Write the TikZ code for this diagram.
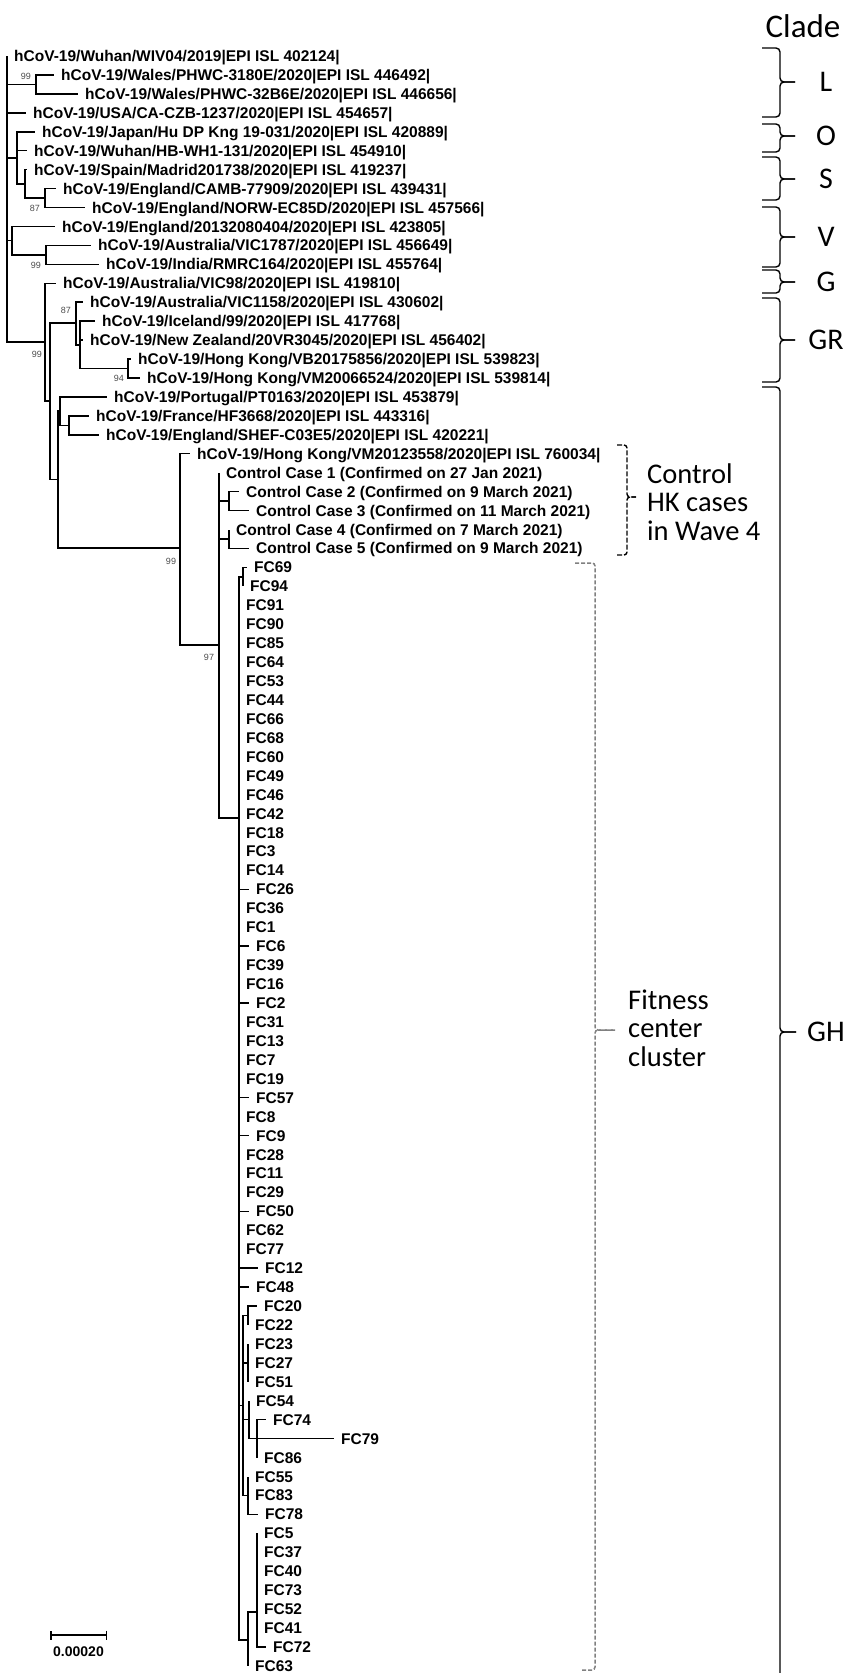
\documentclass[tikz,border=0pt]{standalone}
\usepackage{fontspec}
\setmainfont{Liberation Sans}
\setsansfont{Liberation Sans}
\newfontfamily\calibri{Carlito}
\usetikzlibrary{arrows.meta}
\tikzset{
    font=\sffamily,
    >=Stealth,
    % Tree
    branch/.style={line width=1.5pt, black},
    leaf/.style={anchor=west, inner xsep=7pt, inner ysep=0pt, text height=11pt, text depth=0pt,
                 font=\sffamily\bfseries\fontsize{15.5}{17}\selectfont},
    boot/.style={inner sep=0pt, text=black!70, font=\sffamily\fontsize{9}{10}\selectfont},
    scaleBar/.style={line width=1.5pt, {Bar[width=9pt]}-{Bar[width=9pt]}},
    % Brackets & Labels
    cladeBr/.style={line width=1.4pt, rounded corners=4pt},
    ctrlBr/.style={line width=1.4pt, dash pattern=on 5pt off 2pt, rounded corners=3pt},
    fitBr/.style={line width=1.5pt, draw=gray, dash pattern=on 4pt off 2pt, rounded corners=3pt},
    anno/.style={anchor=west, inner sep=0pt, align=left, font=\calibri\fontsize{28.5}{28.5}\selectfont},
    cladeLbl/.style={inner sep=0pt, text height=19pt, text depth=0pt, font=\calibri\fontsize{30}{32}\selectfont}
}

\begin{document}
\begin{tikzpicture}[x=1pt, y=-1pt]
\useasboundingbox (0,0) rectangle (849,1673);

% internal nodes
\coordinate (root) at (7,199);
\coordinate (nWales) at (36,84.4);
\coordinate (nJapan) at (17,158);
\coordinate (nSpain) at (25,184);
\coordinate (nCamb) at (45,198);
\coordinate (nV) at (12,240.7);
\coordinate (nVic) at (46,254.9);
\coordinate (nA) at (45,342);
\coordinate (nB) at (50,401);
\coordinate (nGR) at (76,323);
\coordinate (nGR2) at (80,345);
\coordinate (nHK) at (128,368.5);
\coordinate (nC) at (58,479.5);
\coordinate (nPort) at (60,411);
\coordinate (nFr) at (69,425.3);
\coordinate (nHKbig) at (180,548);
\coordinate (nCC) at (219,645);
\coordinate (nCC23) at (229,501.1);
\coordinate (nCC45) at (229,539);
\coordinate (nFC) at (239,818);
\coordinate (n69) at (243,576.9);
\coordinate (nS) at (243,1405.5);
\coordinate (n20) at (248,1315.5);
\coordinate (n23) at (248,1362.9);
\coordinate (n54) at (249,1419.7);
\coordinate (n74) at (257,1438.6);
\coordinate (n55) at (248,1495.4);
\coordinate (n63) at (248,1640);
\coordinate (n5) at (257,1612);

% reference sequences
\node[leaf] (wiv04) at (7,56.0) {hCoV-19/Wuhan/WIV04/2019|EPI ISL 402124|};
\node[leaf] (wales1) at (54,74.9) {hCoV-19/Wales/PHWC-3180E/2020|EPI ISL 446492|};
\node[leaf] (wales2) at (78,93.9) {hCoV-19/Wales/PHWC-32B6E/2020|EPI ISL 446656|};
\node[leaf] (usa) at (26,112.8) {hCoV-19/USA/CA-CZB-1237/2020|EPI ISL 454657|};
\node[leaf] (japan) at (35,131.8) {hCoV-19/Japan/Hu DP Kng 19-031/2020|EPI ISL 420889|};
\node[leaf] (whb) at (27,150.7) {hCoV-19/Wuhan/HB-WH1-131/2020|EPI ISL 454910|};
\node[leaf] (spain) at (27,169.6) {hCoV-19/Spain/Madrid201738/2020|EPI ISL 419237|};
\node[leaf] (camb) at (56,188.6) {hCoV-19/England/CAMB-77909/2020|EPI ISL 439431|};
\node[leaf] (norw) at (85,207.5) {hCoV-19/England/NORW-EC85D/2020|EPI ISL 457566|};
\node[leaf] (eng13) at (55,226.5) {hCoV-19/England/20132080404/2020|EPI ISL 423805|};
\node[leaf] (vic1787) at (91,245.4) {hCoV-19/Australia/VIC1787/2020|EPI ISL 456649|};
\node[leaf] (india) at (99,264.3) {hCoV-19/India/RMRC164/2020|EPI ISL 455764|};
\node[leaf] (vic98) at (56,283.3) {hCoV-19/Australia/VIC98/2020|EPI ISL 419810|};
\node[leaf] (vic1158) at (83,302.2) {hCoV-19/Australia/VIC1158/2020|EPI ISL 430602|};
\node[leaf] (iceland) at (95,321.2) {hCoV-19/Iceland/99/2020|EPI ISL 417768|};
\node[leaf] (nz) at (83,340.1) {hCoV-19/New Zealand/20VR3045/2020|EPI ISL 456402|};
\node[leaf] (hkvb) at (131,359.0) {hCoV-19/Hong Kong/VB20175856/2020|EPI ISL 539823|};
\node[leaf] (hkvm1) at (140,378.0) {hCoV-19/Hong Kong/VM20066524/2020|EPI ISL 539814|};
\node[leaf] (portugal) at (107,396.9) {hCoV-19/Portugal/PT0163/2020|EPI ISL 453879|};
\node[leaf] (france) at (89,415.9) {hCoV-19/France/HF3668/2020|EPI ISL 443316|};
\node[leaf] (shef) at (99,434.8) {hCoV-19/England/SHEF-C03E5/2020|EPI ISL 420221|};
\node[leaf] (hkvm2) at (190,453.7) {hCoV-19/Hong Kong/VM20123558/2020|EPI ISL 760034|};

% control cases
\node[leaf] (cc1) at (219,472.7) {Control Case 1 (Confirmed on 27 Jan 2021)};
\node[leaf] (cc2) at (239,491.6) {Control Case 2 (Confirmed on 9 March 2021)};
\node[leaf] (cc3) at (249,510.6) {Control Case 3 (Confirmed on 11 March 2021)};
\node[leaf] (cc4) at (229,529.5) {Control Case 4 (Confirmed on 7 March 2021)};
\node[leaf] (cc5) at (249,548.4) {Control Case 5 (Confirmed on 9 March 2021)};

% fitness center cases
\node[leaf] (fc69) at (247,567.4) {FC69};
\node[leaf] (fc94) at (243,586.3) {FC94};
\node[leaf] (fc20) at (257,1306.0) {FC20};
\node[leaf] (fc22) at (248,1325.0) {FC22};
\node[leaf] (fc54) at (249,1400.7) {FC54};
\node[leaf] (fc74) at (266,1419.7) {FC74};
\node[leaf] (fc79) at (334,1438.6) {FC79};
\node[leaf] (fc86) at (257,1457.6) {FC86};
\node[leaf] (fc55) at (248,1476.5) {FC55};
\node[leaf] (fc83) at (248,1495.4) {FC83};
\node[leaf] (fc78) at (258,1514.4) {FC78};
\node[leaf] (fc63) at (248,1665.9) {FC63};

% branches
\draw[branch] (root) |- (wiv04.west);
\draw[branch] (root) |- (nWales);
\draw[branch] (root) |- (usa.west);
\draw[branch] (root) |- (nJapan);
\draw[branch] (root) |- (nV);
\draw[branch] (root) |- (nA);
\draw[branch] (nWales) |- (wales1.west);
\draw[branch] (nWales) |- (wales2.west);
\draw[branch] (nJapan) |- (japan.west);
\draw[branch] (nJapan) |- (whb.west);
\draw[branch] (nJapan) |- (nSpain);
\draw[branch] (nSpain) |- (spain.west);
\draw[branch] (nSpain) |- (nCamb);
\draw[branch] (nCamb) |- (camb.west);
\draw[branch] (nCamb) |- (norw.west);
\draw[branch] (nV) |- (eng13.west);
\draw[branch] (nV) |- (nVic);
\draw[branch] (nVic) |- (vic1787.west);
\draw[branch] (nVic) |- (india.west);
\draw[branch] (nA) |- (vic98.west);
\draw[branch] (nA) |- (nB);
\draw[branch] (nB) |- (nGR);
\draw[branch] (nB) |- (nC);
\draw[branch] (nGR) |- (vic1158.west);
\draw[branch] (nGR) |- (nGR2);
\draw[branch] (nGR2) |- (iceland.west);
\draw[branch] (nGR2) |- (nz.west);
\draw[branch] (nGR2) |- (nHK);
\draw[branch] (nHK) |- (hkvb.west);
\draw[branch] (nHK) |- (hkvm1.west);
\draw[branch] (nC) |- (nPort);
\draw[branch] (nC) |- (nHKbig);
\draw[branch] (nPort) |- (portugal.west);
\draw[branch] (nPort) |- (nFr);
\draw[branch] (nFr) |- (france.west);
\draw[branch] (nFr) |- (shef.west);
\draw[branch] (nHKbig) |- (hkvm2.west);
\draw[branch] (nHKbig) |- (nCC);
\draw[branch] (nCC) |- (cc1.west);
\draw[branch] (nCC) |- (nCC23);
\draw[branch] (nCC) |- (nCC45);
\draw[branch] (nCC) |- (nFC);
\draw[branch] (nCC23) |- (cc2.west);
\draw[branch] (nCC23) |- (cc3.west);
\draw[branch] (nCC45) |- (cc4.west);
\draw[branch] (nCC45) |- (cc5.west);
\draw[branch] (nFC) |- (n69);
\draw[branch] (nFC) |- (nS);
\draw[branch] (nFC) |- (n63);
\draw[branch] (n69) |- (fc69.west);
\draw[branch] (n69) |- (fc94.west);
\draw[branch] (nS) |- (n20);
\draw[branch] (nS) |- (n23);
\draw[branch] (nS) |- (n54);
\draw[branch] (nS) |- (n55);
\draw[branch] (n20) |- (fc20.west);
\draw[branch] (n20) |- (fc22.west);
\draw[branch] (n54) |- (fc54.west);
\draw[branch] (n54) |- (n74);
\draw[branch] (n74) |- (fc74.west);
\draw[branch] (n74) |- (fc79.west);
\draw[branch] (n74) |- (fc86.west);
\draw[branch] (n55) |- (fc55.west);
\draw[branch] (n55) |- (fc83.west);
\draw[branch] (n55) |- (fc78.west);
\draw[branch] (n63) |- (n5);
\draw[branch] (n63) |- (fc63.west);

% polytomies
\foreach \n/\r/\t in {91/30/239, 90/31/239, 85/32/239, 64/33/239, 53/34/239, 44/35/239,
    66/36/239, 68/37/239, 60/38/239, 49/39/239, 46/40/239, 42/41/239, 18/42/239, 3/43/239,
    14/44/239, 26/45/249, 36/46/239, 1/47/239, 6/48/249, 39/49/239, 16/50/239, 2/51/249,
    31/52/239, 13/53/239, 7/54/239, 19/55/239, 57/56/249, 8/57/239, 9/58/249, 28/59/239,
    11/60/239, 29/61/239, 50/62/249, 62/63/239, 77/64/239, 12/65/258, 48/66/249} {
  \node[leaf] (fc\n) at (\t,{37.06+18.94*\r}) {FC\n};
  \draw[branch] (nFC) |- (fc\n.west);
}
\foreach \n/\r in {23/69, 27/70, 51/71} {
  \node[leaf] (fc\n) at (248,{37.06+18.94*\r}) {FC\n};
  \draw[branch] (n23) |- (fc\n.west);
}
\foreach \n/\r/\t in {5/79/257, 37/80/257, 40/81/257, 73/82/257, 52/83/257, 41/84/257, 72/85/266} {
  \node[leaf] (fc\n) at (\t,{37.06+18.94*\r}) {FC\n};
  \draw[branch] (n5) |- (fc\n.west);
}

% bootstrap values
\node[boot] (bsWales) at (26,76) {99};
\node[boot] (bsCamb) at (35,208) {87};
\node[boot] (bsVic) at (36,265) {99};
\node[boot] (bsA) at (37,354) {99};
\node[boot] (bsGR) at (66,310) {87};
\node[boot] (bsHK) at (119,378) {94};
\node[boot] (bsHKbig) at (171,561) {99};
\node[boot] (bsCC) at (209,657) {97};

% scale bar
\coordinate (sbL) at (50,1635);
\coordinate (sbR) at (107,1635);
\draw[scaleBar] (sbL) -- (sbR);
\node[font=\sffamily\bfseries\fontsize{14}{16}\selectfont, inner sep=0pt] (sbLbl) at (78.5,1652) {0.00020};

% clades
\node[anchor=base, inner sep=0pt, font=\calibri\fontsize{33}{36}\selectfont] (cladeTitle) at (803,37) {Clade};
\foreach \name/\top/\bot/\mid in {L/48/117/82, O/124/152/136, S/157/200/179, V/207/267/237, G/270/293/282, GR/298/382/340} {
  \draw[cladeBr] (762,\top) -- (780,\top) -- (780,\mid) -- (795,\mid);
  \draw[cladeBr] (762,\bot) -- (780,\bot) -- (780,\mid) -- (795,\mid);
  \node[cladeLbl] (clade\name) at (826,\mid) {\name};
}
\draw[cladeBr] (762,387) -- (780,387) -- (780,1032) -- (796,1032);
\draw[cladeBr] (780,1673) -- (780,1032) -- (796,1032);
\node[cladeLbl] (cladeGH) at (826,1032) {GH};

% groups of cases
\draw[ctrlBr] (617,445) -- (627,445) -- (627,497) -- (636,497);
\draw[ctrlBr] (617,555) -- (627,555) -- (627,497) -- (636,497);
\node[anno] (ctrlLbl) at (647,502) {Control\\HK cases\\in Wave 4};
\draw[fitBr] (575,563) -- (595,563) -- (595,1030) -- (615,1030);
\draw[fitBr] (582,1670) -- (595,1670) -- (595,1030) -- (615,1030);
\node[anno] (fitLbl) at (628,1028) {Fitness\\center\\cluster};

\end{tikzpicture}
\end{document}
